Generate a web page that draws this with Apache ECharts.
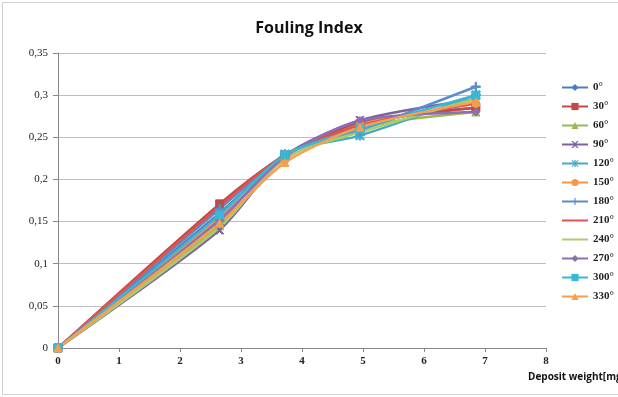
<!DOCTYPE html>
<html><head><meta charset="utf-8">
<script src="https://cdn.jsdelivr.net/npm/echarts@6/dist/echarts.min.js"></script>
<style>html,body{margin:0;padding:0;background:#fff}#c{width:618px;height:397px;}</style>
</head><body><div id="c"></div>
<script>
const depositWeights = [0, 2.65, 3.72, 4.95, 6.85];
const angles = ['0°','30°','60°','90°','120°','150°','180°','210°','240°','270°','300°','330°'];
const s0   = [0, 0.160, 0.228, 0.268, 0.285];
const s30  = [0, 0.171, 0.229, 0.266, 0.285];
const s60  = [0, 0.145, 0.226, 0.262, 0.280];
const s90  = [0, 0.140, 0.228, 0.270, 0.295];
const s120 = [0, 0.150, 0.230, 0.252, 0.300];
const s150 = [0, 0.155, 0.224, 0.265, 0.290];
const s180 = [0, 0.165, 0.228, 0.258, 0.310];
const s210 = [0, 0.168, 0.229, 0.264, 0.290];
const s240 = [0, 0.143, 0.226, 0.256, 0.296];
const s270 = [0, 0.152, 0.227, 0.270, 0.280];
const s300 = [0, 0.158, 0.229, 0.260, 0.300];
const s330 = [0, 0.148, 0.220, 0.262, 0.292];
const yTicks = ['0','0,05','0,1','0,15','0,2','0,25','0,3','0,35'];

const allSeries = [s0,s30,s60,s90,s120,s150,s180,s210,s240,s270,s300,s330];
const colors = ['#4A7EBB','#BE4B48','#98B954','#7D60A0','#46AAC5','#F79646','#5B8DCB','#E0534F','#A9CC6E','#8E6FB3','#38B7D6','#F4A04F'];
const X = 'path://M0,0L2,0L5,3L8,0L10,0L6,5L10,10L8,10L5,7L2,10L0,10L4,5Z';
const STAR = 'path://M4.3,0H5.7V4H9V5.3H5.7V10H4.3V5.3H1V4H4.3Z M1,1L2,0L9,9L8,10Z M8,0L9,1L2,10L1,9Z';
const PLUS = 'path://M4.2,0H5.8V4.2H10V5.8H5.8V10H4.2V5.8H0V4.2H4.2Z';
const symbols = ['diamond','rect','triangle',X,STAR,'circle',PLUS,'none','none','diamond','rect','triangle'];
const sizes = [8,8,8,8,9,8,9,0,0,8,8,8];

const chart = echarts.init(document.getElementById('c'));
chart.setOption({
  animation:false,
  backgroundColor:'#fff',
  graphic:[{type:'rect', shape:{x:2.5,y:2.5,width:640,height:392}, style:{fill:'none', stroke:'#CFCFCF', lineWidth:1}, silent:true}],
  title:{text:'Fouling Index', left:'center', top:15, textStyle:{fontFamily:'Open Sans', fontWeight:'bold', fontSize:16, color:'#111'}},
  grid:{left:58, right:72, top:53, bottom:49, outerBoundsMode:'none', containLabel:false},
  legend:{orient:'vertical', left:556, top:77, itemGap:8, itemWidth:26, itemHeight:9,
    data:angles.map((a,i)=> symbols[i]==='none' ? {name:a, itemStyle:{opacity:0}} : {name:a}),
    textStyle:{fontFamily:'Liberation Serif', fontSize:11, color:'#222', fontWeight:'bold'}},
  xAxis:{type:'value', min:0, max:8, interval:1,
    name:'Deposit weight[mg', nameLocation:'end', nameGap:0,
    nameTextStyle:{fontFamily:'Open Sans', fontWeight:'bold', fontSize:10, color:'#111', align:'left', verticalAlign:'top', padding:[24,0,0,-18]},
    axisLine:{lineStyle:{color:'#888'}}, axisTick:{show:true, lineStyle:{color:'#888'}, length:4},
    axisLabel:{fontFamily:'Liberation Serif', fontWeight:'bold', fontSize:11, color:'#222', margin:8},
    splitLine:{show:false}},
  yAxis:{type:'value', min:0, max:0.35, interval:0.05,
    axisLine:{show:true, lineStyle:{color:'#888'}}, axisTick:{show:true, inside:false, length:5, lineStyle:{color:'#888'}},
    axisLabel:{fontFamily:'Liberation Serif', fontSize:11, color:'#222', margin:10,
      formatter:(v,i)=>yTicks[i]},
    splitLine:{lineStyle:{color:'#BDBDBD', width:1}}},
  series: allSeries.map((arr,i)=>({
    name:angles[i], type:'line', smooth:0.25,
    data: depositWeights.map((x,j)=>[x,arr[j]]),
    symbol:symbols[i], symbolSize:sizes[i], showSymbol:symbols[i]!=='none',
    lineStyle:{width:2.5, color:colors[i]},
    itemStyle:{color:colors[i], borderColor:colors[i]},
    color:colors[i]
  }))
});
</script></body></html>
